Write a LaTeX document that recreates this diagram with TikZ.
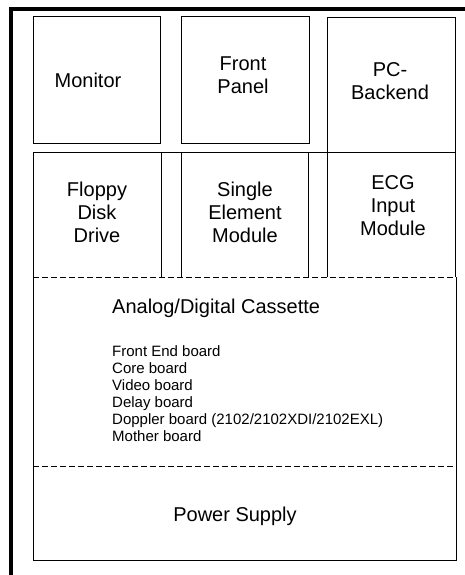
\documentclass[tikz,border=0pt]{standalone}
\usepackage{fontspec}
\setmainfont{Liberation Sans}
\begin{document}
\begin{tikzpicture}[x=1pt, y=-1pt,
    box/.style={line width=1pt},
    cut/.style={line width=0.8pt, dash pattern=on 6pt off 3pt},
    lbl/.style={inner sep=0pt, align=center, font=\fontsize{20}{23}\selectfont},
    boards/.style={inner sep=0pt, align=left, font=\fontsize{15}{17}\selectfont}]
    \useasboundingbox (0, 0) rectangle (465, 575);
    \draw[line width=3.5pt] (11, 575) -- (11, 9) -- (465, 9);
    % top row
    \draw[box] (33, 17) rectangle (160, 143);
    \draw[box] (181, 17) rectangle (309, 143);
    \draw[box] (327, 152) -- (327, 18) -- (455, 18) -- (455, 152);
    % second row
    \draw[box] (33, 152) -- (455, 152);
    \draw[box] (33, 277) -- (33, 152) (161, 152) -- (161, 277);
    \draw[box] (181, 277) -- (181, 152) (308, 152) -- (308, 277);
    \draw[box] (327, 277) -- (327, 152) (455, 152) -- (455, 277);
    \draw[cut] (33, 277) -- (456, 277);
    % cassette and power supply
    \draw[box] (33, 277) -- (33, 560) -- (456, 560) -- (456, 277);
    \draw[cut] (33, 466) -- (456, 466);
    \node[lbl] (monitor) at (88, 80) {Monitor};
    \node[lbl] (panel) at (243, 75) {Front\\Panel};
    \node[lbl] (backend) at (390, 81) {PC-\\Backend};
    \node[lbl] (floppy) at (97, 212) {Floppy\\Disk\\Drive};
    \node[lbl] (single) at (245, 212) {Single\\Element\\Module};
    \node[lbl] (ecg) at (393, 206) {ECG\\Input\\Module};
    \node[lbl, anchor=west] (cassette) at (112, 308) {Analog/Digital Cassette};
    \node[boards, anchor=west] (boardlist) at (112, 394) {Front End board\\Core board\\Video board\\Delay board\\Doppler board (2102/2102XDI/2102EXL)\\Mother board};
    \node[lbl] (power) at (235, 516) {Power Supply};
\end{tikzpicture}
\end{document}
